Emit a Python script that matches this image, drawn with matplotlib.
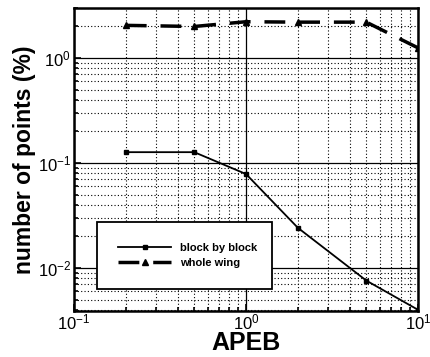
import matplotlib
matplotlib.use("Agg")
import matplotlib.pyplot as plt
from matplotlib.ticker import LogLocator, NullFormatter

plt.rcParams['font.family'] = ['Liberation Sans', 'DejaVu Sans']
plt.rcParams['mathtext.fontset'] = 'custom'
plt.rcParams['mathtext.rm'] = 'Liberation Sans'
plt.rcParams['mathtext.it'] = 'Liberation Sans:italic'
plt.rcParams['mathtext.bf'] = 'Liberation Sans:bold'

apeb = [0.2, 0.5, 1, 2, 5, 10]
block_by_block = [0.127, 0.127, 0.0786, 0.0242, 0.0076, 0.0040]
whole_wing = [2.05, 2.0, 2.22, 2.2, 2.2, 1.25]

fig = plt.figure(figsize=(4.31, 3.57), dpi=100)
ax = fig.add_axes([0.1717, 0.1289, 0.7983, 0.8487])

ax.plot(apeb, block_by_block, '-', color='black', lw=1.3, marker='s', ms=3.5,
        label='block by block')
ax.plot(apeb, whole_wing, '--', color='black', lw=2.5, dashes=(6, 4), marker='^', ms=4,
        label='whole wing')

ax.set_xscale('log')
ax.set_yscale('log')
ax.set_xlim(0.1, 10)
ax.set_ylim(0.0039, 3.0)

ax.yaxis.set_minor_locator(LogLocator(base=10, subs=range(2, 10), numticks=20))
ax.xaxis.set_minor_locator(LogLocator(base=10, subs=range(2, 10), numticks=20))
ax.yaxis.set_minor_formatter(NullFormatter())
ax.xaxis.set_minor_formatter(NullFormatter())

ax.grid(True, which='major', color='black', lw=0.9, ls='-')
ax.grid(True, which='minor', color='black', lw=0.8, ls=(0, (1, 2)))

ax.tick_params(which='both', direction='in', labelsize=12, width=1.2)
ax.tick_params(axis='x', which='major', length=5, pad=1)
ax.tick_params(axis='y', which='major', length=5, pad=2)
ax.tick_params(which='minor', length=3)
for s in ax.spines.values():
    s.set_linewidth(1.8)

ax.set_xlabel('APEB', fontsize=18, fontweight='bold')
ax.xaxis.set_label_coords(0.5, -0.066)
ax.set_ylabel('number of points (%)', fontsize=16.5, fontweight='bold')
ax.yaxis.set_label_coords(-0.11, 0.5)

leg = ax.legend(loc='lower left', bbox_to_anchor=(0.067, 0.073, 0.509, 0.191),
                mode='expand', fontsize=8, handlelength=4.8, frameon=True,
                fancybox=False, edgecolor='black', framealpha=1,
                borderaxespad=0, borderpad=1.9, labelspacing=0.4)
leg.get_frame().set_linewidth(1.3)
for t in leg.get_texts():
    t.set_fontweight('bold')

fig.savefig('out.png', dpi=100)
